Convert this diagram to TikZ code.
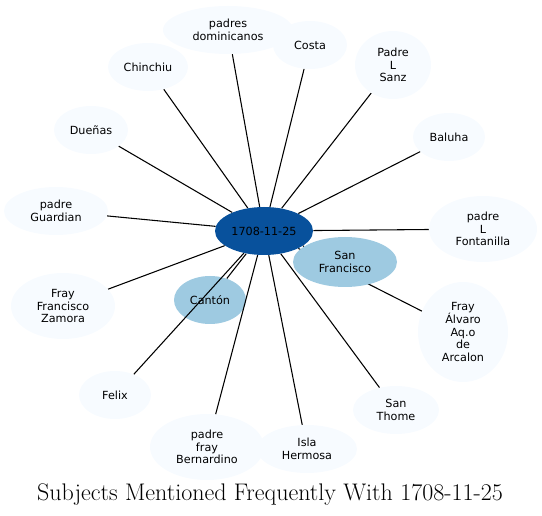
\documentclass[tikz,border=0pt]{standalone}
\usepackage{fontspec}
\newfontfamily\nodefont{DejaVu Sans}
\usepackage{xcolor}
\usepackage{tikz}
\usetikzlibrary{shapes.geometric}
\definecolor{hub}{HTML}{08519C}
\definecolor{near}{HTML}{9ECAE1}
\definecolor{far}{HTML}{F7FBFF}

\begin{document}
\begin{tikzpicture}[x=0.75pt,y=-0.75pt,
    subj/.style={ellipse,fill=far,inner sep=0pt,align=center,
      font=\nodefont\fontsize{8.4}{9.6}\selectfont},
    edge/.style={black,line width=0.8pt}]
    \useasboundingbox (0,0) rectangle (542,516);
    % Outer subjects: name/x/y/half width/half height/label
    \foreach \n/\x/\y/\rx/\ry/\t in {
        dom/228/30/65/24/{padres\\dominicanos},
        costa/310/45/37/24/{Costa},
        sanz/393/65/38/34/{Padre\\L\\Sanz},
        chin/148/67/40/24/{Chinchiu},
        baluha/449/137/36/24/{Baluha},
        duenas/91/130/37/24/{Dueñas},
        guard/56/211/52/24/{padre\\Guardian},
        fonta/483/229/54/33/{padre\\L\\Fontanilla},
        zamora/63/306/52/33/{Fray\\Francisco\\Zamora},
        alvaro/463/332/45/50/{Fray\\Álvaro\\Aq.o\\de\\Arcalon},
        felix/115/395/36/24/{Felix},
        thome/396/410/43/24/{San\\Thome},
        berna/207/447/57/33/{padre\\fray\\Bernardino},
        isla/307/449/50/24/{Isla\\Hermosa}} {
      \node[subj,minimum width=2*\rx*0.75pt,minimum height=2*\ry*0.75pt]
        (\n) at (\x,\y) {\t};
    }
    % Close subjects
    \node[subj,fill=near,minimum width=54pt,minimum height=36pt]
      (canton) at (210,300) {Cantón};
    % Hub not drawn yet, so place a coordinate first
    \coordinate (hubc) at (264,231);
    \node[ellipse,minimum width=73.5pt,minimum height=36pt] (hubshape) at (hubc) {};
    \foreach \n in {dom,costa,sanz,chin,baluha,duenas,guard,fonta,
                    zamora,alvaro,felix,thome,berna,isla,canton} {
      \draw[edge] (hubshape) -- (\n);
    }
    \node[subj,fill=near,minimum width=78pt,minimum height=37.5pt]
      (sanfran) at (345,262) {San\\Francisco};
    \draw[edge] (hubshape) -- (sanfran);
    \node[subj,fill=hub,minimum width=73.5pt,minimum height=36pt]
      (hubnode) at (hubc) {1708-11-25};
    % Title
    \node[font=\fontsize{18}{21}\selectfont] (title) at (270,495)
      {Subjects Mentioned Frequently With 1708-11-25};
\end{tikzpicture}
\end{document}
